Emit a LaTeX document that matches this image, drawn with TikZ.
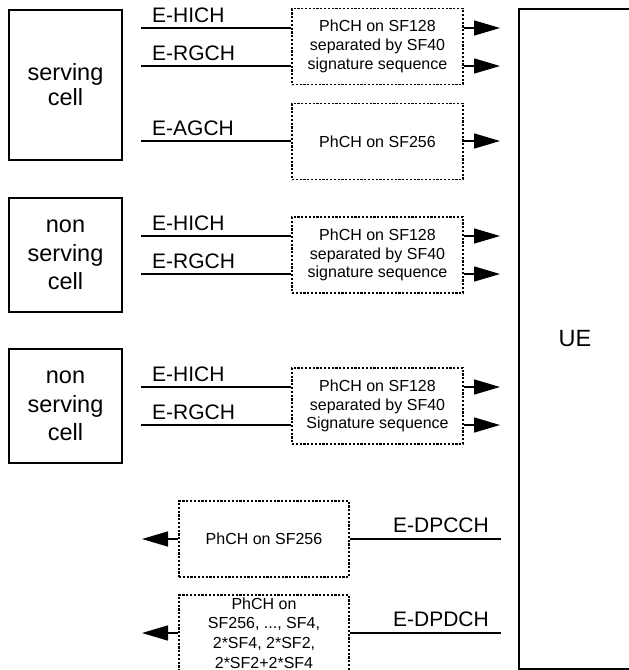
\documentclass[tikz,border=0pt]{standalone}
\usepackage{fontspec}
\setmainfont{Liberation Sans}
\usetikzlibrary{arrows.meta}
\begin{document}
\begin{tikzpicture}[x=1pt,y=-1pt,
  cellbox/.style={draw,line width=1.6pt,minimum width=113pt,align=center,
    font=\fontsize{23.5}{28.5}\selectfont},
  phbox/.style={draw,line width=1.2pt,dash pattern=on 2.2pt off 1.6pt,
    minimum width=171pt,minimum height=76pt,align=center,inner sep=0pt,
    font=\fontsize{16}{18.8}\selectfont},
  chlabel/.style={inner sep=0pt,font=\fontsize{21}{25}\selectfont},
  chline/.style={line width=1.5pt},
  sigarrow/.style={line width=1.5pt,-{Triangle[length=26pt,width=15pt]}},
]
\clip (0,0) rectangle (629,670);
\fill[white] (0,0) rectangle (629,670);

% base stations
\node[cellbox,minimum height=150pt,font=\fontsize{23.5}{25}\selectfont]
  (cellA) at (65.5,85) {serving\\cell};
\node[cellbox,minimum height=114pt] (cellB) at (65.5,255) {non\\serving\\cell};
\node[cellbox,minimum height=114pt] (cellC) at (65.5,406) {non\\serving\\cell};

% terminal
\node[draw,line width=1.8pt,minimum width=112pt,minimum height=660pt,
  font=\fontsize{23.5}{28}\selectfont] (ue) at (575,339) {UE};

% physical channel boxes
\node[phbox] (b1) at (377.5,46.5) {PhCH on SF128\\separated by SF40\\signature sequence};
\node[phbox] (b2) at (377.5,141.5) {PhCH on SF256};
\node[phbox] (b3) at (377.5,255) {PhCH on SF128\\separated by SF40\\signature sequence};
\node[phbox] (b4) at (377.5,406) {PhCH on SF128\\separated by SF40\\Signature sequence};
\node[phbox,minimum width=170pt] (b5) at (264,539) {PhCH on SF256};
\node[phbox,minimum width=170pt,font=\fontsize{16}{19.6}\selectfont]
  (b6) at (264,633) {PhCH on\\SF256, ..., SF4,\\2*SF4, 2*SF2,\\2*SF2+2*SF4};

% downlink channel inputs
\coordinate (in1) at (141,28);
\coordinate (in2) at (141,66);
\coordinate (in3) at (141,141);
\coordinate (in4) at (141,236);
\coordinate (in5) at (141,274);
\coordinate (in6) at (141,387);
\coordinate (in7) at (141,425);

% arrow tips towards the terminal
\coordinate (out1) at (500,28);
\coordinate (out2) at (500,66);
\coordinate (out3) at (500,141);
\coordinate (out4) at (500,236);
\coordinate (out5) at (500,274);
\coordinate (out6) at (500,387);
\coordinate (out7) at (500,425);

\foreach \i/\b in {1/b1,2/b1,3/b2,4/b3,5/b3,6/b4,7/b4}{
  \draw[chline] (in\i) -- (\b.west |- in\i);
  \draw[sigarrow] (\b.east |- out\i) -- (out\i);
}

% channel names
\node[chlabel,anchor=base west] (l1) at (152,22) {E-HICH};
\node[chlabel,anchor=base west] (l2) at (152,60) {E-RGCH};
\node[chlabel,anchor=base west] (l3) at (152,135) {E-AGCH};
\node[chlabel,anchor=base west] (l4) at (152,230) {E-HICH};
\node[chlabel,anchor=base west] (l5) at (152,268) {E-RGCH};
\node[chlabel,anchor=base west] (l6) at (152,381) {E-HICH};
\node[chlabel,anchor=base west] (l7) at (152,419) {E-RGCH};

% uplink channels
\coordinate (up1) at (501,539);
\coordinate (up2) at (501,633);
\coordinate (tip1) at (142,539);
\coordinate (tip2) at (142,633);
\draw[chline] (up1) -- (b5.east |- up1);
\draw[chline] (up2) -- (b6.east |- up2);
\draw[sigarrow] (b5.west |- tip1) -- (tip1);
\draw[sigarrow] (b6.west |- tip2) -- (tip2);
\node[chlabel,anchor=base east] (l8) at (489,532) {E-DPCCH};
\node[chlabel,anchor=base east] (l9) at (489,626) {E-DPDCH};
\end{tikzpicture}
\end{document}
